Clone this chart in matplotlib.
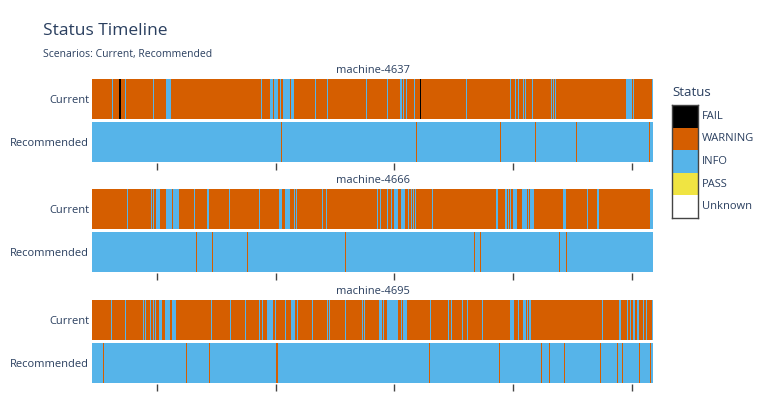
import matplotlib.pyplot as plt
from matplotlib.patches import Rectangle

plt.rcParams['font.family'] = ['Open Sans', 'DejaVu Sans']

# === Datos ===
statuses = ['FAIL', 'WARNING', 'INFO', 'PASS', 'Unknown']
status_colors = ['#000000', '#D55E00', '#56B4E9', '#F0E442', '#FFFFFF']
machines = ['machine-4637', 'machine-4666', 'machine-4695']
scenarios = ['Current', 'Recommended']
n_steps = 561
x_ticks = [64.7, 183.5, 302.3, 421.0, 539.8]

# Tramos (inicio, duración) que difieren del estado base de cada fila
# Current: base WARNING ; Recommended: base INFO
m4637_current_info = [
    (20.3, 0.5), (33, 1.2), (61.3, 0.5), (63.8, 0.5), (74, 4.7), (82.5, 0.8),
    (169, 0.7), (178, 3), (182, 4), (186.5, 0.5), (188, 0.6), (189.5, 0.7),
    (191, 0.8), (192, 6), (199, 3), (223, 0.6), (235, 1.0), (274, 0.6),
    (295, 1.0), (302.5, 0.5), (308, 2), (311.3, 1), (314, 0.5), (316.6, 0.6),
    (319.6, 0.6), (322.3, 0.6), (374, 1.0), (415.5, 0.5), (418, 0.5),
    (420.5, 0.5), (423, 0.6), (426, 0.5), (428.5, 0.5), (431, 0.6), (433, 0.5),
    (434.5, 0.5), (440, 1.2), (459, 0.5), (461, 0.6), (463, 0.5), (534, 5.5),
    (541, 0.6), (559.5, 1.5),
]
m4637_current_fail = [(26.5, 1.0), (28.0, 0.6), (328, 0.8)]
m4637_recommended_warning = [
    (189, 0.8), (324.3, 0.8), (408.3, 0.8), (443.3, 0.8), (484, 0.5), (557, 0.6),
]

m4666_current_info = [
    (35, 0.8), (48.7, 0.6), (58.8, 0.7), (61, 1.0), (64, 3.5), (74, 6.2),
    (81, 6), (99.5, 0.6), (102.2, 0.6), (115, 2), (136.7, 0.8), (167, 0.6),
    (187, 3), (193, 5), (199.5, 0.6), (202, 0.6), (204, 0.6), (230, 0.6),
    (233.5, 1.2), (285, 0.6), (288.3, 0.8), (294.8, 0.8), (299, 0.6),
    (301.5, 4), (306.5, 0.6), (309, 4), (316, 0.8), (319, 0.7), (321, 0.7),
    (323, 0.8), (339.8, 0.8), (404, 2.3), (407.5, 0.6), (413, 2), (416, 0.7),
    (418, 1.2), (421, 4), (426.5, 0.6), (430, 5), (436, 0.6), (437.5, 4),
    (471, 2.5), (495, 0.6), (504.8, 2.5), (558, 3),
]
m4666_current_fail = [(365.5, 0.8)]
m4666_recommended_warning = [
    (104, 0.8), (120.3, 1.0), (155, 1.2), (253, 0.8), (382, 0.8), (388, 0.7),
    (443.5, 0.8), (467, 0.5), (474, 0.6), (477.5, 0.8),
]

m4695_current_info = [
    (19, 0.8), (33, 0.8), (51, 0.5), (53, 0.6), (58, 0.8), (61, 0.8), (63, 0.8),
    (67, 3), (71.5, 0.7), (73, 5), (80, 4), (118.7, 0.8), (138, 0.6),
    (152.8, 0.8), (167, 0.6), (170, 0.6), (175, 6), (182.5, 1), (186.5, 0.6),
    (192.5, 1), (196.5, 0.7), (199, 4), (205, 0.6), (219.8, 0.8), (235, 0.6),
    (237, 0.6), (253, 0.6), (270, 0.5), (272, 0.5), (287, 3), (291, 0.5),
    (295, 10.5), (308.5, 1.5), (311, 4), (316.7, 0.6), (338, 0.6), (353.8, 0.6),
    (356, 0.6), (358.5, 1.3), (370, 0.6), (372.8, 0.6), (374.8, 1.2), (390, 0.5),
    (413.5, 0.7), (415.5, 0.6), (418, 4), (423.5, 0.6), (426, 0.5), (428.5, 0.8),
    (431, 3), (435, 1.2), (437, 2), (457.5, 0.6), (474.5, 0.6), (509.7, 1.2),
    (526.5, 2), (535, 1), (538, 1), (541, 1.5), (545, 1.5), (551, 0.8),
    (554, 0.8), (559.5, 1.5),
]
m4695_current_fail = []
m4695_recommended_warning = [
    (11, 0.8), (94, 0.6), (117, 0.7), (184, 0.6), (185.3, 0.6), (337, 0.6),
    (407, 0.8), (449, 0.8), (457, 0.6), (472, 0.8), (508, 0.6), (525, 0.6),
    (530, 0.6), (547, 0.6), (558, 0.6),
]

timelines = {
    'machine-4637': [('WARNING', {'INFO': m4637_current_info, 'FAIL': m4637_current_fail}),
                     ('INFO', {'WARNING': m4637_recommended_warning})],
    'machine-4666': [('WARNING', {'INFO': m4666_current_info, 'FAIL': m4666_current_fail}),
                     ('INFO', {'WARNING': m4666_recommended_warning})],
    'machine-4695': [('WARNING', {'INFO': m4695_current_info, 'FAIL': m4695_current_fail}),
                     ('INFO', {'WARNING': m4695_recommended_warning})],
}

color_of = dict(zip(statuses, status_colors))
text_color = '#2a3f5f'

# === Figura ===
W, H = 757, 394
fig = plt.figure(figsize=(W / 100, H / 100), dpi=100)


def px_rect(x0, y0, w, h):
    return [x0 / W, 1 - (y0 + h) / H, w / W, h / H]


plot_tops = [78, 188, 299]
for machine, top in zip(machines, plot_tops):
    ax = fig.add_axes(px_rect(92, top, 561, 85))
    for row, (base, overlays) in enumerate(timelines[machine]):
        yr = (row - 0.476, 0.952)
        ax.broken_barh([(0, n_steps)], yr, facecolors=color_of[base], linewidth=0)
        for status, runs in overlays.items():
            if runs:
                ax.broken_barh(runs, yr, facecolors=color_of[status], linewidth=0)
    ax.set_xlim(0, n_steps)
    ax.set_ylim(1.5, -0.5)
    ax.set_yticks([0, 1])
    ax.set_yticklabels(scenarios, fontsize=8, color=text_color)
    ax.tick_params(axis='y', length=0, pad=2)
    ax.set_xticks(x_ticks)
    ax.set_xticklabels([])
    ax.tick_params(axis='x', length=5, width=1, color='#444444', pad=0)
    for s in ax.spines.values():
        s.set_visible(False)
    ax.set_title(machine, fontsize=8, color=text_color, pad=3.5)

# === Títulos ===
fig.text(43 / W, 1 - 31 / H, 'Status Timeline', fontsize=12.5, color=text_color, va='center')
fig.text(43 / W, 1 - 54 / H, 'Scenarios: Current, Recommended', fontsize=7.5,
         color=text_color, va='center')

# === Leyenda ===
lax = fig.add_axes(px_rect(672, 105, 26, 113))
n = len(statuses)
for i, (st, c) in enumerate(zip(statuses, status_colors)):
    lax.add_patch(Rectangle((0, i), 1, 1, facecolor=c, edgecolor='none'))
    fig.text(702 / W, 1 - (105 + (i + 0.5) * 113 / n) / H, st, fontsize=8,
             color=text_color, va='center')
lax.set_xlim(0, 1)
lax.set_ylim(n, 0)
lax.set_xticks([])
lax.set_yticks([])
for s in lax.spines.values():
    s.set_color('#444444')
    s.set_linewidth(1)
fig.text(672 / W, 1 - 93 / H, 'Status', fontsize=9.5, color=text_color, va='center')

fig.savefig('out.png', dpi=100)
